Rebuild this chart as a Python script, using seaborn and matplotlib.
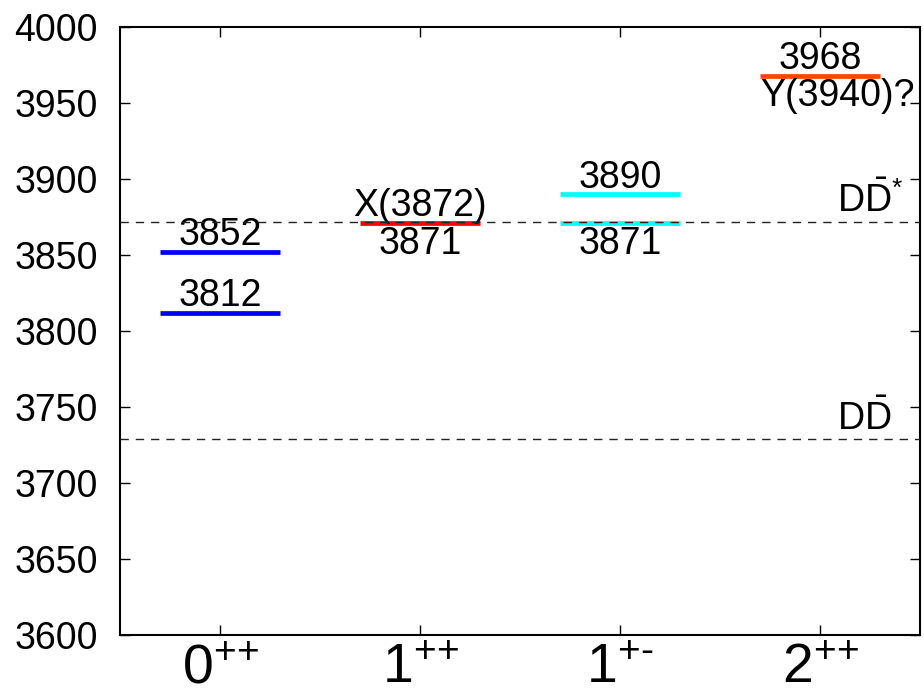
import matplotlib
matplotlib.use("Agg")
import matplotlib.pyplot as plt
import seaborn as sns
import pandas as pd
import numpy as np

# ---- data ----
categories = ["0++", "1++", "1+-", "2++"]
tick_labels = [r"$\mathregular{0^{\text{++}}}$", r"$\mathregular{1^{\text{++}}}$",
               r"$\mathregular{1^{\text{+-}}}$", r"$\mathregular{2^{\text{++}}}$"]
level_category = ["0++", "0++", "1++", "1+-", "1+-", "2++"]
level_mass = [3852, 3812, 3871, 3890, 3871, 3968]
level_label = ["3852", "3812", "3871", "3890", "3871", "3968"]
level_label_pos = ["above", "above", "below", "above", "below", "above"]
level_color = ["#0000ff", "#0000ff", "#ff0000", "#00ffff", "#00ffff", "#ff4500"]
exp_names = ["X(3872)", "Y(3940)?"]
exp_category = ["1++", "2++"]
exp_mass = [3871, 3968]
exp_pos = ["above", "below"]
thresholds = [3872, 3729]
threshold_labels = [r"$\mathregular{D\bar{D}^{*}}$", r"$\mathregular{D\bar{D}}$"]

sns.set_theme(style="ticks")
plt.rcParams["font.family"] = ["Liberation Sans", "DejaVu Sans"]
plt.rcParams["mathtext.fontset"] = "custom"
plt.rcParams["mathtext.rm"] = "Liberation Sans"
plt.rcParams["mathtext.it"] = "Liberation Sans:italic"
plt.rcParams["mathtext.bf"] = "Liberation Sans:bold"
plt.rcParams["text.color"] = "black"
plt.rcParams["xtick.color"] = "black"
plt.rcParams["ytick.color"] = "black"
plt.rcParams["xtick.labelcolor"] = "black"
plt.rcParams["ytick.labelcolor"] = "black"

df = pd.DataFrame({"category": level_category, "mass": level_mass,
                   "label": level_label, "pos": level_label_pos, "color": level_color})
df["x"] = df["category"].map({c: i for i, c in enumerate(categories)})

fig = plt.figure(figsize=(9.24, 6.94), dpi=100)
ax = fig.add_axes([120 / 924, 1 - 635 / 694, 800 / 924, 608 / 694])

halfw = 0.3
fs = 27
for _, r in df.iterrows():
    ax.hlines(r["mass"], r["x"] - halfw, r["x"] + halfw, color=r["color"], lw=3.4, zorder=2)
    if r["pos"] == "above":
        ax.annotate(r["label"], (r["x"], r["mass"]), xytext=(0, -1), textcoords="offset points",
                    ha="center", va="bottom", fontsize=fs, color="black")
    else:
        ax.annotate(r["label"], (r["x"], r["mass"]), xytext=(0, -2), textcoords="offset points",
                    ha="center", va="top", fontsize=fs, color="black")

for name, cat, m, p in zip(exp_names, exp_category, exp_mass, exp_pos):
    xi = categories.index(cat)
    if p == "above":
        ax.annotate(name, (xi, m), xytext=(0, -1), textcoords="offset points",
                    ha="center", va="bottom", fontsize=fs, color="black")
    else:
        ax.annotate(name, (xi - halfw, m), xytext=(0, -2), textcoords="offset points",
                    ha="left", va="top", fontsize=fs, color="black")

for t, lab in zip(thresholds, threshold_labels):
    ax.axhline(t, color="#222222", lw=1.0, ls=(0, (6, 5)), zorder=3)
    ax.annotate(lab, (3.1, t), xytext=(-2, 1), textcoords="offset points",
                ha="left", va="bottom", fontsize=fs, color="black")

ax.set_xlim(-0.5, 3.5)
ax.set_ylim(3600, 4000)
ax.set_xticks(range(len(categories)))
ax.set_xticklabels(tick_labels, fontsize=40)
ax.set_yticks(np.arange(3600, 4001, 50))
ax.tick_params(axis="y", labelsize=fs, pad=16)
ax.tick_params(axis="x", pad=6)
ax.tick_params(direction="in", length=7, width=1, top=True, right=True, color="black")
for s in ax.spines.values():
    s.set_linewidth(1.5)
    s.set_color("black")
ax.set_xlabel("")
ax.set_ylabel("")

fig.savefig("out.png", dpi=100)
